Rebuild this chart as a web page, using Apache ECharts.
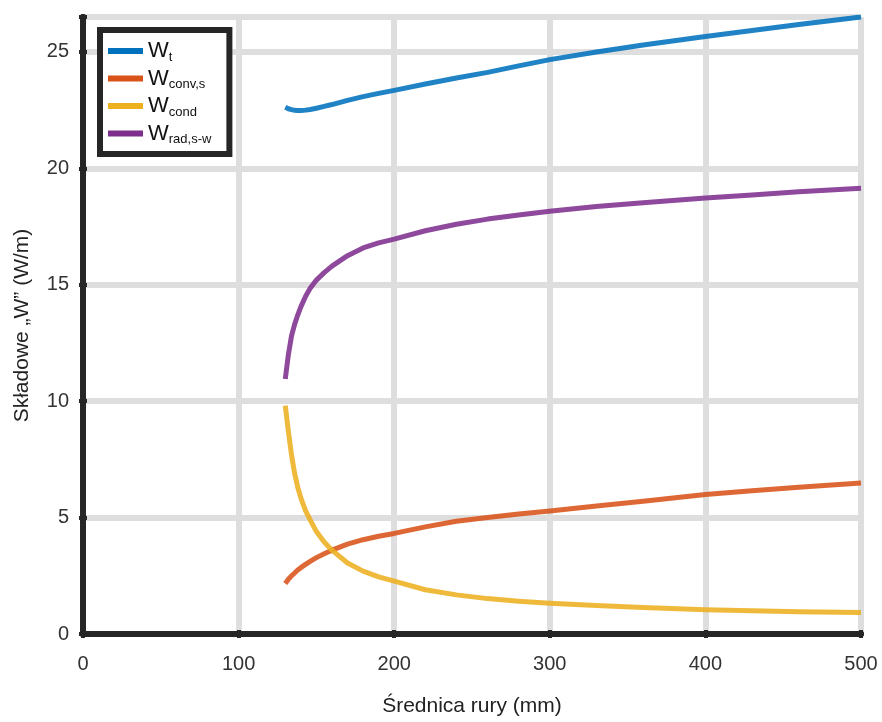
<!DOCTYPE html>
<html>
<head>
<meta charset="utf-8">
<script src="https://cdn.jsdelivr.net/npm/echarts@6/dist/echarts.min.js"></script>
<style>html,body{margin:0;padding:0;background:#fff}#c{width:882px;height:722px}</style>
</head>
<body>
<div id="c"></div>
<script>
const diameters = [130, 132, 134, 136, 138, 140, 143, 146, 150, 155, 160, 170, 180, 190, 200, 220, 240, 260, 280, 300, 330, 360, 400, 430, 460, 500];
const wTotal = [22.62, 22.56, 22.52, 22.49, 22.48, 22.48, 22.5, 22.53, 22.58, 22.66, 22.74, 22.92, 23.08, 23.22, 23.35, 23.62, 23.88, 24.12, 24.4, 24.67, 25.0, 25.3, 25.66, 25.92, 26.18, 26.5];
const wConv  = [2.17, 2.35, 2.5, 2.62, 2.75, 2.85, 2.99, 3.12, 3.28, 3.45, 3.6, 3.86, 4.05, 4.2, 4.32, 4.6, 4.84, 5.0, 5.15, 5.28, 5.5, 5.7, 5.99, 6.15, 6.3, 6.49];
const wCond  = [9.81, 8.7, 7.7, 6.9, 6.3, 5.85, 5.3, 4.9, 4.4, 3.95, 3.6, 3.05, 2.7, 2.45, 2.27, 1.9, 1.68, 1.52, 1.41, 1.32, 1.22, 1.14, 1.04, 1.0, 0.96, 0.92];
const wRad   = [10.95, 12.0, 12.8, 13.3, 13.7, 14.05, 14.5, 14.85, 15.2, 15.52, 15.8, 16.25, 16.58, 16.8, 16.96, 17.32, 17.6, 17.82, 18.0, 18.16, 18.36, 18.52, 18.73, 18.86, 18.99, 19.15];
const xTicks = [0, 100, 200, 300, 400, 500];
const yTicks = [0, 5, 10, 15, 20, 25];
const seriesNames = ['Wt', 'Wconv,s', 'Wcond', 'Wrad,s-w'];
const seriesLabels = ['{m|W}{s|t}', '{m|W}{s|conv,s}', '{m|W}{s|cond}', '{m|W}{s|rad,s-w}'];
const seriesValues = [wTotal, wConv, wCond, wRad];
const colors = ['#0072BD', '#D95319', '#EDB120', '#7E2F8E'];

const chart = echarts.init(document.getElementById('c'));
const font = 'Liberation Sans, Arial, sans-serif';
const borderColor = '#262626';
const lineAxis = {show: true, lineStyle: {color: borderColor, width: 6}};

const series = seriesValues.map((vals, i) => ({
  name: seriesNames[i],
  type: 'line',
  data: diameters.map((d, j) => [d, vals[j]]),
  smooth: false,
  showSymbol: false,
  symbol: 'none',
  lineStyle: {color: colors[i], width: 5, opacity: 0.88, cap: 'butt', join: 'round'},
  itemStyle: {color: colors[i]},
  z: 3
}));

chart.setOption({
  animation: false,
  backgroundColor: '#fff',
  color: colors,
  grid: {left: 83, right: 21, top: 17, bottom: 81, containLabel: false},
  legend: {
    orient: 'vertical',
    left: 100, top: 30,
    padding: [10, 18, 8, 8],
    backgroundColor: '#fff',
    borderColor: borderColor,
    borderWidth: 6,
    itemWidth: 35,
    itemHeight: 6,
    itemGap: 4,
    icon: 'rect',
    data: seriesNames,
    formatter: name => seriesLabels[seriesNames.indexOf(name)],
    textStyle: {
      fontFamily: font, fontSize: 21, color: '#111',
      rich: {
        m: {fontFamily: font, fontSize: 22, color: '#111', height: 24},
        s: {fontFamily: font, fontSize: 13, color: '#111', verticalAlign: 'bottom', padding: [12, 0, 0, 0]}
      }
    }
  },
  xAxis: [{
    type: 'value', min: 0, max: 500, interval: 100, position: 'bottom',
    name: 'Średnica rury (mm)', nameLocation: 'middle', nameGap: 62,
    nameTextStyle: {fontFamily: font, fontSize: 21, color: '#222'},
    axisLine: lineAxis,
    axisTick: {show: true, inside: true, length: 4, lineStyle: {color: borderColor, width: 4}},
    axisLabel: {fontFamily: font, fontSize: 20, color: '#333', margin: 20,
      formatter: v => xTicks.includes(v) ? String(v) : ''},
    splitLine: {show: true, lineStyle: {color: '#dedede', width: 6}}
  }, {
    type: 'value', min: 0, max: 500, interval: 100, position: 'top',
    axisLine: lineAxis,
    axisTick: {show: true, inside: true, length: 4, lineStyle: {color: borderColor, width: 4}},
    axisLabel: {show: false}, splitLine: {show: false}
  }],
  yAxis: [{
    type: 'value', min: 0, max: 26.5, interval: 5, position: 'left',
    name: 'Składowe „W” (W/m)', nameLocation: 'middle', nameGap: 50, nameRotate: 90,
    nameTextStyle: {fontFamily: font, fontSize: 21, color: '#222'},
    axisLine: lineAxis,
    axisTick: {show: true, inside: true, length: 4, lineStyle: {color: borderColor, width: 4}},
    axisLabel: {fontFamily: font, fontSize: 20, color: '#333', margin: 14,
      formatter: v => yTicks.includes(v) ? String(v) : ''},
    splitLine: {show: true, lineStyle: {color: '#dedede', width: 6}}
  }, {
    type: 'value', min: 0, max: 26.5, interval: 5, position: 'right',
    axisLine: lineAxis,
    axisTick: {show: true, inside: true, length: 4, lineStyle: {color: borderColor, width: 4}},
    axisLabel: {show: false}, splitLine: {show: false}
  }],
  series: series
});
</script>
</body>
</html>
